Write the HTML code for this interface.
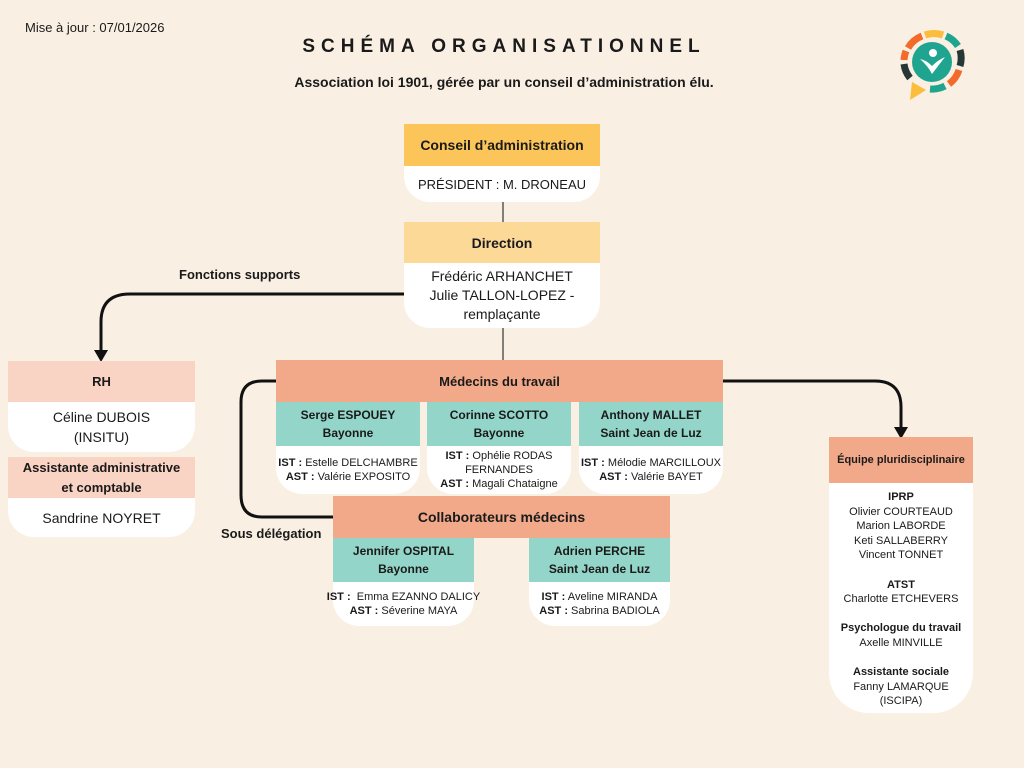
<!DOCTYPE html>
<html><head><meta charset="utf-8"><style>
body{margin:0;width:1024px;height:768px;background:#f9efe3;font-family:"Liberation Sans",sans-serif;color:#1a1a1a;position:relative;overflow:hidden}
.a{position:absolute}
.w{position:absolute;background:#fff;border-radius:26px}
.h{position:absolute;display:flex;align-items:center;justify-content:center;text-align:center;font-weight:bold}
.t{position:absolute;text-align:center;display:flex;flex-direction:column;justify-content:center;align-items:center}
.s{font-size:11px;line-height:14px}
.s b{font-weight:bold}
</style></head><body>
<div class="a" style="left:25px;top:20px;font-size:13px">Mise à jour : 07/01/2026</div>
<div class="a" style="left:0;width:1008px;top:36px;text-align:center;font-size:19px;font-weight:bold;letter-spacing:6px">SCHÉMA ORGANISATIONNEL</div>
<div class="a" style="left:0;width:1008px;top:74px;text-align:center;font-size:14px;font-weight:bold">Association loi 1901, gérée par un conseil d’administration élu.</div>

<svg class="a" style="left:896px;top:26px" width="72" height="76" viewBox="0 0 72 76">
<g fill="none" stroke-width="7">
<path d="M12 22 A28 28 0 0 1 26 10" stroke="#f26b2a"/>
<path d="M29 9 A28 28 0 0 1 47 9" stroke="#fbbd3b"/>
<path d="M50 10 A28 28 0 0 1 62 20" stroke="#1fa58f"/>
<path d="M64 24 A28 28 0 0 1 64 40" stroke="#263836"/>
<path d="M63 44 A28 28 0 0 1 53 58" stroke="#f26b2a"/>
<path d="M49 60 A28 28 0 0 1 34 63" stroke="#1fa58f"/>
<path d="M14 52 A28 28 0 0 1 8 38" stroke="#263836"/>
<path d="M8 34 A28 28 0 0 1 10 25" stroke="#f26b2a"/>
</g>
<path d="M16 56 L30 64 L14 74 Z" fill="#fbbd3b"/>
<circle cx="36" cy="36" r="20" fill="#1fa58f"/>
<circle cx="37" cy="27" r="4" fill="#fff"/>
<path d="M24 33 Q30 34 36 40 Q42 34 49 31 Q42 40 36 48 Q32 40 24 33Z" fill="#fff"/>
</svg>

<svg class="a" style="left:0;top:0" width="1024" height="768">
<g stroke="#333" stroke-width="1.2"><line x1="503" y1="202" x2="503" y2="222"/><line x1="503" y1="328" x2="503" y2="360"/></g>
<g fill="none" stroke="#111" stroke-width="3">
<path d="M404 294 H130 Q101 294 101 322 V352"/>
<path d="M723 381 H875 Q901 381 901 407 V430"/>
<path d="M276 381 H262 Q241 381 241 402 V495 Q241 517 262 517 H338"/>
</g>
<g fill="#111"><path d="M94 350 L108 350 L101 362Z"/><path d="M894 427 L908 427 L901 439Z"/><path d="M336 510 L336 524 L347 517Z"/></g>
</svg>
<div class="a" style="left:179px;top:267px;font-size:13px;font-weight:bold">Fonctions supports</div>
<div class="a" style="left:221px;top:526px;font-size:13px;font-weight:bold">Sous délégation</div>

<div class="w" style="left:404px;top:124px;width:196px;height:78px"></div>
<div class="h" style="left:404px;top:124px;width:196px;height:42px;background:#fbc55a;font-size:14px">Conseil d’administration</div>
<div class="t" style="left:404px;top:166px;width:196px;height:36px;font-size:13px">PRÉSIDENT : M. DRONEAU</div>

<div class="w" style="left:404px;top:222px;width:196px;height:106px"></div>
<div class="h" style="left:404px;top:222px;width:196px;height:41px;background:#fdd998;font-size:14px">Direction</div>
<div class="t" style="left:404px;top:263px;width:196px;height:65px;font-size:14px;line-height:19px">Frédéric ARHANCHET<br>Julie TALLON-LOPEZ -<br>remplaçante</div>

<div class="w" style="left:8px;top:361px;width:187px;height:91px"></div>
<div class="h" style="left:8px;top:361px;width:187px;height:41px;background:#f9d3c3;font-size:13px">RH</div>
<div class="t" style="left:8px;top:402px;width:187px;height:50px;font-size:14px;line-height:20px">Céline DUBOIS<br>(INSITU)</div>
<div class="w" style="left:8px;top:457px;width:187px;height:80px"></div>
<div class="h" style="left:8px;top:457px;width:187px;height:41px;background:#f9d3c3;font-size:13px;line-height:20px">Assistante administrative<br>et comptable</div>
<div class="t" style="left:8px;top:498px;width:187px;height:39px;font-size:14px">Sandrine NOYRET</div>

<div class="h" style="left:276px;top:360px;width:447px;height:42px;background:#f2a98a;font-size:13px">Médecins du travail</div>
<div class="w" style="left:276px;top:402px;width:144px;height:92px"></div>
<div class="h" style="left:276px;top:402px;width:144px;height:44px;background:#94d5c9;font-size:12px;line-height:18px">Serge ESPOUEY<br>Bayonne</div>
<div class="t s" style="left:276px;top:446px;width:144px;height:48px"><span><b>IST :</b> Estelle DELCHAMBRE</span><span><b>AST :</b> Valérie EXPOSITO</span></div>
<div class="w" style="left:427px;top:402px;width:144px;height:92px"></div>
<div class="h" style="left:427px;top:402px;width:144px;height:44px;background:#94d5c9;font-size:12px;line-height:18px">Corinne SCOTTO<br>Bayonne</div>
<div class="t s" style="left:427px;top:446px;width:144px;height:48px"><span><b>IST :</b> Ophélie RODAS</span><span>FERNANDES</span><span><b>AST :</b> Magali Chataigne</span></div>
<div class="w" style="left:579px;top:402px;width:144px;height:92px"></div>
<div class="h" style="left:579px;top:402px;width:144px;height:44px;background:#94d5c9;font-size:12px;line-height:18px">Anthony MALLET<br>Saint Jean de Luz</div>
<div class="t s" style="left:579px;top:446px;width:144px;height:48px"><span><b>IST :</b> Mélodie MARCILLOUX</span><span><b>AST :</b> Valérie BAYET</span></div>

<div class="h" style="left:333px;top:496px;width:337px;height:42px;background:#f2a98a;font-size:14px">Collaborateurs médecins</div>
<div class="w" style="left:333px;top:538px;width:141px;height:88px"></div>
<div class="h" style="left:333px;top:538px;width:141px;height:44px;background:#94d5c9;font-size:12px;line-height:18px">Jennifer OSPITAL<br>Bayonne</div>
<div class="t s" style="left:323px;top:582px;width:161px;height:44px"><span><b>IST :</b>&nbsp; Emma EZANNO DALICY</span><span><b>AST :</b> Séverine MAYA</span></div>
<div class="w" style="left:529px;top:538px;width:141px;height:88px"></div>
<div class="h" style="left:529px;top:538px;width:141px;height:44px;background:#94d5c9;font-size:12px;line-height:18px">Adrien PERCHE<br>Saint Jean de Luz</div>
<div class="t s" style="left:529px;top:582px;width:141px;height:44px"><span><b>IST :</b> Aveline MIRANDA</span><span><b>AST :</b> Sabrina BADIOLA</span></div>

<div class="w" style="left:829px;top:437px;width:144px;height:276px;border-radius:40px"></div>
<div class="h" style="left:829px;top:437px;width:144px;height:46px;background:#f2a98a;font-size:11px">Équipe pluridisciplinaire</div>
<div class="a s" style="left:829px;top:490px;width:144px;text-align:center;line-height:14.6px">
<b>IPRP</b><br>Olivier COURTEAUD<br>Marion LABORDE<br>Keti SALLABERRY<br>Vincent TONNET<br><br>
<b>ATST</b><br>Charlotte ETCHEVERS<br><br>
<b>Psychologue du travail</b><br>Axelle MINVILLE<br><br>
<b>Assistante sociale</b><br>Fanny LAMARQUE<br>(ISCIPA)</div>
</body></html>
